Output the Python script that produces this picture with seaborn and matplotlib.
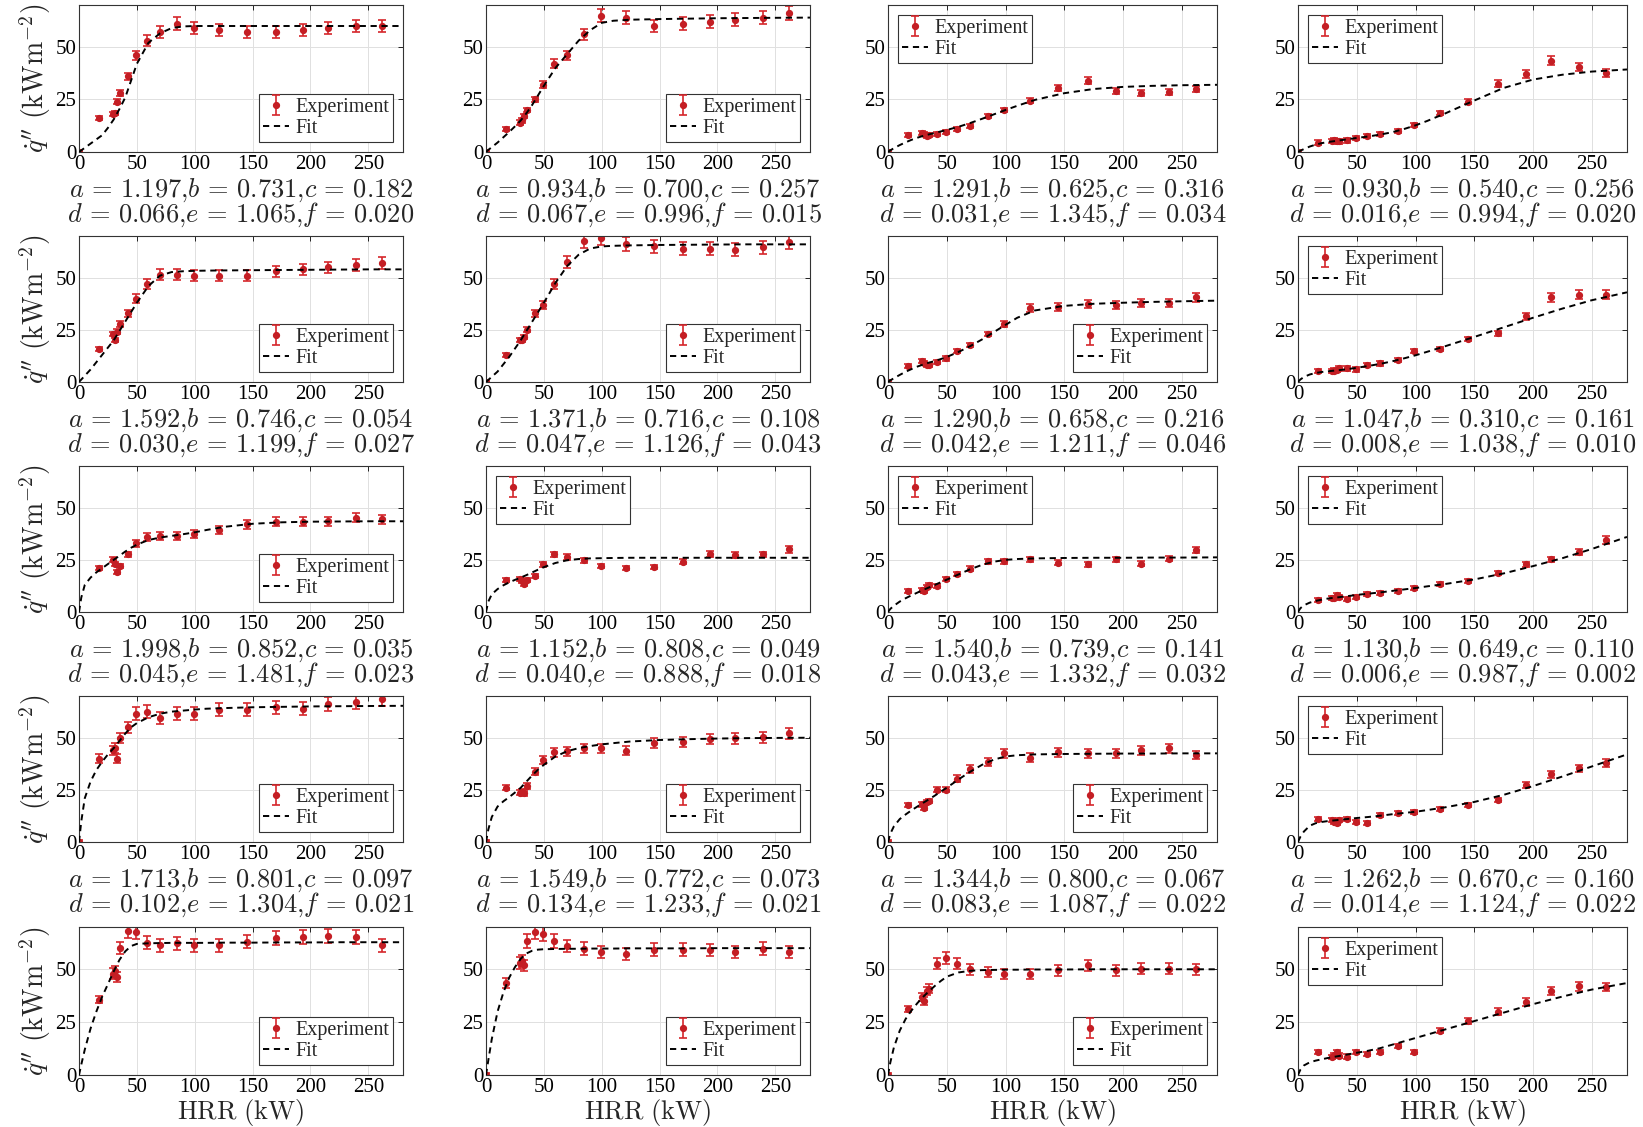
import numpy as np
import pandas as pd
import matplotlib
matplotlib.use("Agg")
import matplotlib.pyplot as plt
import seaborn as sns

# Heat release rates at which the heat flux was measured (kW)
HRR = [0, 17, 29, 31, 33, 35, 42, 49, 59, 70, 85, 99, 121, 145, 170, 194, 215, 239, 262]
# HRR grid on which the fitted curves are tabulated (kW)
X_FIT = [0, 2, 5, 10, 15, 20, 25, 30, 35, 40, 45, 50, 60, 70, 80, 90, 100, 110,
         125, 150, 175, 200, 225, 250, 280]
nan = float("nan")

# Measured heat flux q'' (kW/m^2), one list per gauge location
q_r1c1 = [0, 16, 18, 18.5, 24, 28, 36, 46, 53, 57, 61, 59, 58, 57, 57, 58, 59, 60, 60]
q_r1c2 = [0, 11, 14, 15, 17, 20, 25, 32, 42, 46, 56, 65, 64, 60, 61, 62, 63, 64, 66]
q_r1c3 = [0, 8, 9, 8.5, 7.5, 8, 8.5, 9.5, 11, 12.5, 17, 20, 24.5, 30.5, 34, 29, 28, 28.5, 30]
q_r1c4 = [0, 4.5, 5.3, 5.5, 5, 5, 5.5, 6.5, 7.5, 8.5, 10, 13, 18.5, 24, 32.5, 37, 43.5, 40.5, 37.5]
q_r2c1 = [nan, 16, 23, 20, 24, 28, 33, 40, 47, 51.5, 51.5, 51, 51, 51, 53, 54, 55, 56, 57]
q_r2c2 = [0, 13, 20, 20, 21.5, 25, 33, 37, 47, 57.5, 67.5, 69, 66, 65, 64, 64, 63.5, 64.5, 67]
q_r2c3 = [0, 7.6, 10, 9, 8, 8, 9.7, 11.3, 14.8, 17.7, 23, 27.7, 35.5, 36, 37.4, 37, 38, 38, 40.6]
q_r2c4 = [nan, 5.3, 5.3, 5.5, 5.8, 6.5, 6.5, 6, 8, 8.9, 10.5, 14.8, 15.8, 20.5, 23.4, 31.5, 40.6, 41.9, 41.9]
q_r3c1 = [nan, 21, 25, 23, 19, 22, 27.6, 32.9, 36, 36.5, 36.5, 37.3, 39.3, 42, 43.3, 43.3, 43.6, 45.2, 44.4]
q_r3c2 = [nan, 15.2, 15.7, 14.7, 13.6, 15.2, 17.3, 22.8, 27.6, 26.4, 24.8, 22.1, 21.2, 21.6, 24, 27.7, 27.2, 27.6, 30]
q_r3c3 = [nan, 10, 10.5, 10, 12, 13, 12.5, 15.7, 18.4, 20.8, 24.4, 24.4, 25.2, 23.6, 22.8, 25.3, 23.2, 25.6, 29.6]
q_r3c4 = [nan, 5.6, 6.9, 6.9, 8, 7.2, 6.1, 7.2, 8.8, 9.1, 9.9, 11.5, 13.6, 14.7, 18.8, 22.8, 25.2, 28.8, 34.5]
q_r4c1 = [0, 40, 44, 45, 40, 50, 55, 61.5, 62.5, 59.5, 61.5, 61.5, 63.5, 63.5, 64.5, 64, 66, 67, 68.5]
q_r4c2 = [0, 26, 23.7, 24, 23.4, 27, 33.7, 39.4, 43, 43.4, 44.9, 44.9, 43.8, 47.3, 48, 49.4, 49.7, 50.2, 52.2]
q_r4c3 = [0, 17.6, 18, 16.5, 19, 19.7, 25, 25, 30.4, 35, 38.5, 42.5, 40.5, 43, 42.5, 42.5, 44, 44.9, 41.7]
q_r4c4 = [nan, 10.9, 10.6, 9.8, 9.3, 10.4, 10.9, 9.6, 9.3, 12.8, 14.1, 14.4, 15.7, 17.6, 20, 27.2, 32.5, 35.3, 38.1]
q_r5c1 = [nan, 35.6, 48, 49, 46.5, 60, 68, 67.5, 62.5, 61.4, 62.2, 61.4, 61.4, 63, 64.9, 65.3, 65.8, 65.3, 61.4]
q_r5c2 = [0, 43.5, 53, 54, 52, 63.3, 67.7, 66.5, 63.3, 61, 59.8, 58.2, 57.4, 59.3, 59.3, 59, 58.2, 59.8, 58.2]
q_r5c3 = [0, 31.3, 36.9, 35, 39.6, 40.8, 52.7, 55.4, 52.7, 50, 48.7, 47.9, 47.9, 49.5, 51.9, 49.5, 50.3, 50.3, 50]
q_r5c4 = [nan, 10.8, 8.4, 9.5, 10.8, 9.2, 8.7, 10.8, 10, 11, 13.6, 10.8, 21, 25.5, 30, 34.5, 39.6, 41.9, 41.6]

# Fitted curves tabulated on X_FIT
fit_r1c1 = [0, 0.8, 2, 4, 6, 8, 11.5, 15.5, 20.5, 26, 34, 42, 52, 56.5, 59, 59.8, 60, 60, 60, 60, 60, 60, 60, 60, 60]
fit_r1c2 = [0, 1, 2.3, 4.5, 7, 9.5, 12.2, 15, 18.5, 22.5, 27, 31.5, 40, 46.5, 53, 58, 61.5, 62.5, 63, 63.3, 63.5, 63.7, 63.8, 63.9, 64]
fit_r1c3 = [0, 0.8, 1.8, 3.3, 4.6, 5.8, 6.8, 7.7, 8.4, 9.1, 9.8, 10.5, 12, 13.8, 15.8, 17.9, 20, 22, 24.8, 28, 30, 31, 31.5, 31.8, 32]
fit_r1c4 = [0, 0.6, 1.4, 2.6, 3.5, 4.2, 4.7, 5.1, 5.5, 5.9, 6.3, 6.7, 7.4, 8.3, 9.4, 10.9, 12.7, 14.8, 18.3, 24.5, 30.5, 34.5, 36.8, 38.3, 39.3]
fit_r2c1 = [0, 1.2, 3, 6, 9.5, 13, 16.5, 20, 24.5, 29, 33.5, 38, 46, 51, 52.7, 53.1, 53.3, 53.4, 53.5, 53.6, 53.7, 53.8, 53.9, 54, 54]
fit_r2c2 = [0, 1, 2.5, 5, 8.5, 12, 16, 20, 24.5, 29, 33.5, 38, 47.5, 55.5, 61, 64, 65, 65.3, 65.5, 65.7, 65.8, 65.9, 66, 66, 66]
fit_r2c3 = [0, 0.8, 1.8, 3.4, 4.9, 6.2, 7.4, 8.4, 9.3, 10.1, 11, 12, 14.4, 17.2, 20.4, 23.9, 27.4, 30.8, 34.3, 36.5, 37.5, 38, 38.4, 38.7, 39]
fit_r2c4 = [0, 1.2, 2.4, 3.6, 4.3, 4.8, 5.1, 5.4, 5.7, 6, 6.4, 6.8, 7.7, 8.7, 9.9, 11.3, 12.8, 14.5, 17.1, 21.6, 26.2, 30.8, 35.2, 39.2, 43]
fit_r3c1 = [0, 7, 13, 16.5, 19, 21, 23, 25, 27, 29, 30.8, 32.3, 34.5, 35.7, 36.5, 37.3, 38.2, 39.3, 40.8, 42.3, 43, 43.3, 43.4, 43.5, 43.5]
fit_r3c2 = [0, 5, 8.5, 11, 12.8, 14.2, 15.4, 16.5, 17.7, 19, 20.3, 21.5, 23.5, 24.8, 25.4, 25.7, 25.8, 25.9, 26, 26, 26, 26, 26, 26, 26]
fit_r3c3 = [0, 1.5, 3, 5, 6.6, 8, 9.3, 10.6, 11.8, 13, 14.3, 15.5, 18, 20.5, 22.6, 24.1, 25, 25.4, 25.7, 25.9, 26, 26, 26.1, 26.1, 26.2]
fit_r3c4 = [0, 1.8, 3.2, 4.5, 5.3, 5.9, 6.4, 6.8, 7.1, 7.5, 7.8, 8.2, 8.8, 9.4, 10.1, 10.8, 11.5, 12.3, 13.4, 15.6, 18.5, 22, 25.8, 30.2, 36]
fit_r4c1 = [0, 10, 21, 29, 34.5, 38.5, 42, 45, 48.5, 52, 55, 57, 59.8, 61.5, 62.5, 63, 63.5, 63.9, 64.2, 64.6, 64.8, 65, 65.1, 65.2, 65.3]
fit_r4c2 = [0, 6, 12, 17, 19.5, 21.5, 23.7, 26, 29, 32, 34.7, 37, 41, 43.5, 45, 46, 46.8, 47.4, 48.2, 48.9, 49.3, 49.6, 49.8, 49.9, 50]
fit_r4c3 = [0, 4, 7.5, 11, 13.2, 15.2, 17, 18.8, 20.5, 22.3, 24.2, 26, 30, 33.7, 37, 39.5, 41, 41.6, 42, 42.2, 42.3, 42.4, 42.4, 42.5, 42.5]
fit_r4c4 = [0, 2.5, 5, 7.8, 9, 9.6, 10, 10.3, 10.6, 10.9, 11.2, 11.5, 12, 12.6, 13.3, 13.9, 14.5, 15.3, 16.6, 19.2, 22.6, 26.8, 31.4, 36.2, 42]
fit_r5c1 = [0, 5, 12, 22, 30, 37, 43, 49, 54.5, 58.5, 61, 62, 62.3, 62.4, 62.5, 62.5, 62.5, 62.5, 62.6, 62.6, 62.7, 62.7, 62.8, 62.8, 62.8]
fit_r5c2 = [0, 7, 17, 30, 39, 46, 51, 55, 57.5, 58.8, 59.3, 59.5, 59.6, 59.7, 59.7, 59.8, 59.8, 59.8, 59.9, 59.9, 59.9, 60, 60, 60, 60]
fit_r5c3 = [0, 6, 13, 21, 26.5, 30.5, 34, 37, 39.7, 42.2, 44.5, 46.5, 48.5, 49.3, 49.6, 49.7, 49.8, 49.8, 49.9, 49.9, 50, 50, 50, 50, 50]
fit_r5c4 = [0, 2.5, 4.5, 6, 6.8, 7.4, 8, 8.5, 9, 9.5, 10, 10.5, 11.5, 12.7, 14.3, 15.9, 17.5, 19.1, 21.5, 25.5, 29.5, 33.5, 37.1, 40.4, 43.5]

# Fit coefficients (a, b, c, d, e, f) printed under each panel
par_r1c1 = ["1.197", "0.731", "0.182", "0.066", "1.065", "0.020"]
par_r1c2 = ["0.934", "0.700", "0.257", "0.067", "0.996", "0.015"]
par_r1c3 = ["1.291", "0.625", "0.316", "0.031", "1.345", "0.034"]
par_r1c4 = ["0.930", "0.540", "0.256", "0.016", "0.994", "0.020"]
par_r2c1 = ["1.592", "0.746", "0.054", "0.030", "1.199", "0.027"]
par_r2c2 = ["1.371", "0.716", "0.108", "0.047", "1.126", "0.043"]
par_r2c3 = ["1.290", "0.658", "0.216", "0.042", "1.211", "0.046"]
par_r2c4 = ["1.047", "0.310", "0.161", "0.008", "1.038", "0.010"]
par_r3c1 = ["1.998", "0.852", "0.035", "0.045", "1.481", "0.023"]
par_r3c2 = ["1.152", "0.808", "0.049", "0.040", "0.888", "0.018"]
par_r3c3 = ["1.540", "0.739", "0.141", "0.043", "1.332", "0.032"]
par_r3c4 = ["1.130", "0.649", "0.110", "0.006", "0.987", "0.002"]
par_r4c1 = ["1.713", "0.801", "0.097", "0.102", "1.304", "0.021"]
par_r4c2 = ["1.549", "0.772", "0.073", "0.134", "1.233", "0.021"]
par_r4c3 = ["1.344", "0.800", "0.067", "0.083", "1.087", "0.022"]
par_r4c4 = ["1.262", "0.670", "0.160", "0.014", "1.124", "0.022"]

# Relative measurement uncertainty and its floor (kW/m^2)
REL_UNC = 0.05
MIN_UNC = 1.0

Q = [[q_r1c1, q_r1c2, q_r1c3, q_r1c4],
     [q_r2c1, q_r2c2, q_r2c3, q_r2c4],
     [q_r3c1, q_r3c2, q_r3c3, q_r3c4],
     [q_r4c1, q_r4c2, q_r4c3, q_r4c4],
     [q_r5c1, q_r5c2, q_r5c3, q_r5c4]]
FIT = [[fit_r1c1, fit_r1c2, fit_r1c3, fit_r1c4],
       [fit_r2c1, fit_r2c2, fit_r2c3, fit_r2c4],
       [fit_r3c1, fit_r3c2, fit_r3c3, fit_r3c4],
       [fit_r4c1, fit_r4c2, fit_r4c3, fit_r4c4],
       [fit_r5c1, fit_r5c2, fit_r5c3, fit_r5c4]]
PAR = [[par_r1c1, par_r1c2, par_r1c3, par_r1c4],
       [par_r2c1, par_r2c2, par_r2c3, par_r2c4],
       [par_r3c1, par_r3c2, par_r3c3, par_r3c4],
       [par_r4c1, par_r4c2, par_r4c3, par_r4c4],
       None]
LEG = [["lower right", "lower right", "upper left", "upper left"],
       ["lower right", "lower right", "lower right", "upper left"],
       ["lower right", "upper left", "upper left", "upper left"],
       ["lower right", "lower right", "lower right", "upper left"],
       ["lower right", "lower right", "lower right", "upper left"]]

sns.set_style("white")
plt.rcParams["font.family"] = ["Liberation Serif", "DejaVu Serif"]
plt.rcParams["mathtext.fontset"] = "cm"

W, H = 1643, 1127
fig = plt.figure(figsize=(W / 100, H / 100), dpi=100)

COLS = [(79, 403), (486, 810), (888, 1217), (1298, 1627)]
ROWS = [(5, 152), (236, 382), (466, 612), (696, 842), (927, 1075)]
RED = "#d6262b"

for r, (top, bot) in enumerate(ROWS):
    for c, (left, right) in enumerate(COLS):
        ax = fig.add_axes([left / W, 1 - bot / H, (right - left) / W, (bot - top) / H])
        q = np.array(Q[r][c], dtype=float)
        err = np.maximum(REL_UNC * q, MIN_UNC)

        sns.lineplot(x=X_FIT, y=FIT[r][c], ax=ax, color="black",
                     linestyle=(0, (3.2, 2.4)), linewidth=1.4, zorder=3)
        fit_line = ax.get_lines()[-1]
        eb = ax.errorbar(HRR, q, yerr=err, fmt="o", color=RED, ecolor=RED,
                         markerfacecolor="#c41e24", markeredgecolor="#c41e24",
                         ms=4.2, elinewidth=1.2, capsize=3, capthick=1.2, zorder=2)

        ax.set_xlim(0, 280)
        ax.set_ylim(0, 70)
        ax.set_xticks([0, 50, 100, 150, 200, 250])
        ax.set_yticks([0, 25, 50])
        ax.grid(True, color="#e0e0e0", linewidth=0.7)
        ax.set_axisbelow(True)
        for s in ax.spines.values():
            s.set_visible(True)
            s.set_color("#333333")
            s.set_linewidth(0.8)
        ax.tick_params(direction="in", length=3.5, width=0.7, labelsize=15,
                       top=True, right=True, pad=2, colors="#222222",
                       labelcolor="black")
        ax.set_xlabel("")
        ax.set_ylabel("")

        leg = ax.legend([eb, fit_line], ["Experiment", "Fit"], loc=LEG[r][c],
                        fontsize=14.5, frameon=True, fancybox=False,
                        edgecolor="#333333", framealpha=1, handlelength=1.3,
                        handletextpad=0.3, borderpad=0.2, labelspacing=0.1,
                        borderaxespad=0.5)
        leg.get_frame().set_linewidth(0.8)

        if c == 0:
            ax.set_ylabel(r"$\dot{q}''\ (\mathrm{kWm}^{-2})$", fontsize=20, labelpad=2)

        xc = (left + right) / 2 / W
        if PAR[r] is not None:
            p = PAR[r][c]
            fig.text(xc, 1 - (bot + 38) / H,
                     r"$a\,=\,%s{,}b\,=\,%s{,}c\,=\,%s$" % (p[0], p[1], p[2]),
                     ha="center", va="center", fontsize=19)
            fig.text(xc, 1 - (bot + 63) / H,
                     r"$d\,=\,%s{,}e\,=\,%s{,}f\,=\,%s$" % (p[3], p[4], p[5]),
                     ha="center", va="center", fontsize=19)
        else:
            fig.text(xc, 1 - (bot + 38) / H, r"$\mathrm{HRR\ (kW)}$",
                     ha="center", va="center", fontsize=19)

fig.savefig("out.png", dpi=100)
